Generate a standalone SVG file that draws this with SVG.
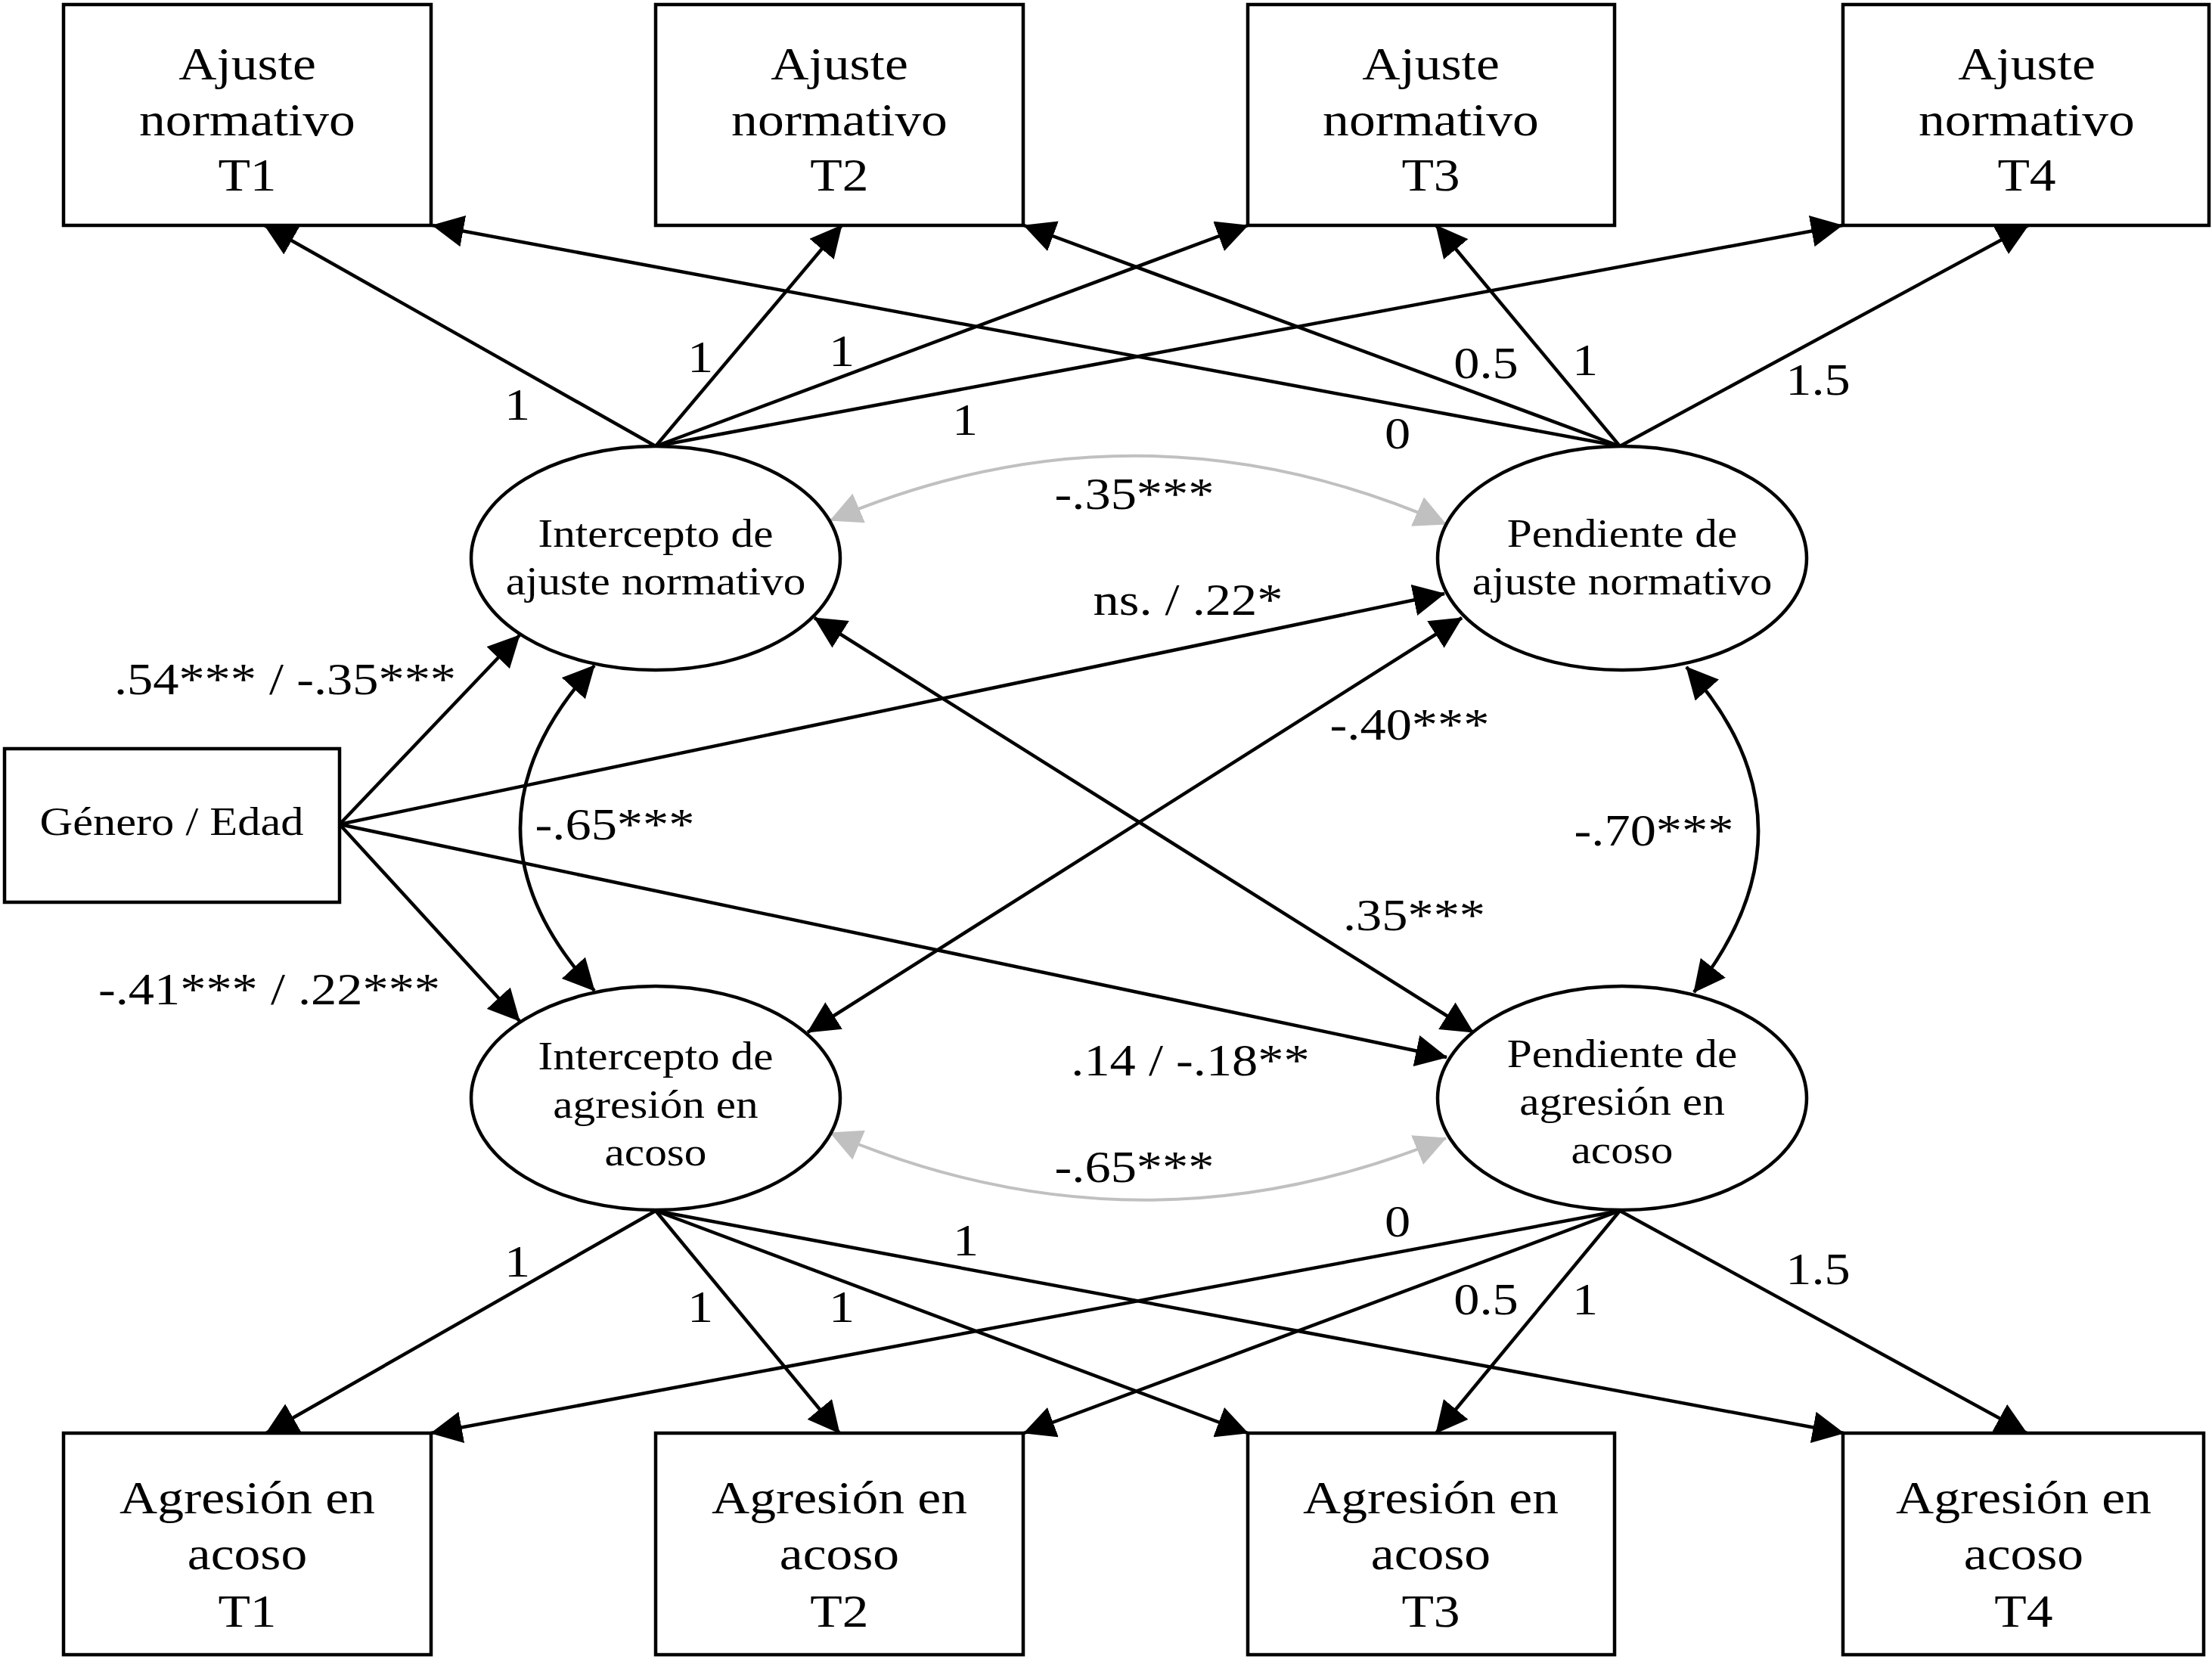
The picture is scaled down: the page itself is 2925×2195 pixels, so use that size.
<svg xmlns="http://www.w3.org/2000/svg" width="2925" height="2195" viewBox="0 0 2925 2195">
<style>
.t{font-family:"Liberation Serif","Times New Roman",serif;text-anchor:middle;fill:#000;transform-box:fill-box;transform-origin:center;transform:scaleX(1.14)}
.bx{font-size:61px}
.el{font-size:52px}
.lb{font-size:60px}
.node{fill:#fff;stroke:#000;stroke-width:4.5}
.e{fill:none;stroke:#000;stroke-width:4.5;marker-end:url(#ah)}
.b{fill:none;stroke:#000;stroke-width:4.5;marker-start:url(#ah);marker-end:url(#ah)}
.g{fill:none;stroke:#c0c0c0;stroke-width:4;marker-start:url(#ag);marker-end:url(#ag)}
</style>
<defs>
<marker id="ah" viewBox="0 0 42 42" refX="41" refY="21" markerWidth="42" markerHeight="42" markerUnits="userSpaceOnUse" orient="auto-start-reverse"><path d="M0,0 L42,21 L0,42 z" fill="#000"/></marker>
<marker id="ag" viewBox="0 0 42 42" refX="41" refY="21" markerWidth="42" markerHeight="42" markerUnits="userSpaceOnUse" orient="auto-start-reverse"><path d="M0,0 L42,21 L0,42 z" fill="#c0c0c0"/></marker>
</defs>
<rect width="2925" height="2195" fill="#fff"/>
<g id="connectors">
<path class="e" d="M867,590 L350,298"/>
<path class="e" d="M867,590 L1113,298"/>
<path class="e" d="M867,590 L1650,298"/>
<path class="e" d="M867,590 L2436,298"/>
<path class="e" d="M2142,590 L572,298"/>
<path class="e" d="M2142,590 L1354,298"/>
<path class="e" d="M2142,590 L1899,298"/>
<path class="e" d="M2142,590 L2682,298"/>
<path class="e" d="M867,1601 L352,1895"/>
<path class="e" d="M867,1601 L1110,1895"/>
<path class="e" d="M867,1601 L1650,1895"/>
<path class="e" d="M867,1601 L2438,1895"/>
<path class="e" d="M2142,1601 L570,1895"/>
<path class="e" d="M2142,1601 L1354,1895"/>
<path class="e" d="M2142,1601 L1899,1895"/>
<path class="e" d="M2142,1601 L2680,1895"/>
<path class="e" d="M449,1090 L687,840"/>
<path class="e" d="M449,1090 L687,1350"/>
<path class="e" d="M449,1090 L1910,785"/>
<path class="e" d="M449,1090 L1913,1398"/>
<path class="b" d="M1077,817 L1948,1365"/>
<path class="b" d="M1933,817 L1068,1365"/>
<path class="b" d="M786,880 Q590,1095 786,1310"/>
<path class="b" d="M2230,882 Q2415,1089 2240,1312"/>
<path class="g" d="M1098,688 Q1505,515 1912,693"/>
<path class="g" d="M1098,1498 Q1505,1672 1912,1505"/>
</g>
<g id="labels">
<text class="t lb" x="684" y="555">1</text>
<text class="t lb" x="926" y="492">1</text>
<text class="t lb" x="1113" y="484">1</text>
<text class="t lb" x="1276" y="575">1</text>
<text class="t lb" x="1848" y="593">0</text>
<text class="t lb" x="1965" y="500">0.5</text>
<text class="t lb" x="2096" y="496">1</text>
<text class="t lb" x="2404" y="522">1.5</text>
<text class="t lb" x="684" y="1688">1</text>
<text class="t lb" x="926" y="1748">1</text>
<text class="t lb" x="1113" y="1748">1</text>
<text class="t lb" x="1277" y="1660">1</text>
<text class="t lb" x="1848" y="1635">0</text>
<text class="t lb" x="1965" y="1738">0.5</text>
<text class="t lb" x="2096" y="1738">1</text>
<text class="t lb" x="2404" y="1698">1.5</text>
<text class="t lb" x="1500" y="673">-.35***</text>
<text class="t lb" x="1571" y="813">ns. / .22*</text>
<text class="t lb" x="377" y="918">.54*** / -.35***</text>
<text class="t lb" x="1864" y="978">-.40***</text>
<text class="t lb" x="813" y="1110">-.65***</text>
<text class="t lb" x="2187" y="1118">-.70***</text>
<text class="t lb" x="1870" y="1230">.35***</text>
<text class="t lb" x="356" y="1328">-.41*** / .22***</text>
<text class="t lb" x="1574" y="1422">.14 / -.18**</text>
<text class="t lb" x="1500" y="1563">-.65***</text>
</g>
<g id="ajuste-t1"><rect class="node" x="84" y="6" width="486" height="292"/>
<text class="t bx" x="327" y="105">Ajuste</text><text class="t bx" x="327" y="179">normativo</text><text class="t bx" x="327" y="252">T1</text></g>
<g id="ajuste-t2"><rect class="node" x="867" y="6" width="486" height="292"/>
<text class="t bx" x="1110" y="105">Ajuste</text><text class="t bx" x="1110" y="179">normativo</text><text class="t bx" x="1110" y="252">T2</text></g>
<g id="ajuste-t3"><rect class="node" x="1650" y="6" width="485" height="292"/>
<text class="t bx" x="1892" y="105">Ajuste</text><text class="t bx" x="1892" y="179">normativo</text><text class="t bx" x="1892" y="252">T3</text></g>
<g id="ajuste-t4"><rect class="node" x="2437" y="6" width="484" height="292"/>
<text class="t bx" x="2680" y="105">Ajuste</text><text class="t bx" x="2680" y="179">normativo</text><text class="t bx" x="2680" y="252">T4</text></g>
<g id="agresion-t1"><rect class="node" x="84" y="1895" width="486" height="293"/>
<text class="t bx" x="327" y="2001">Agresión en</text><text class="t bx" x="327" y="2075">acoso</text><text class="t bx" x="327" y="2151">T1</text></g>
<g id="agresion-t2"><rect class="node" x="867" y="1895" width="486" height="293"/>
<text class="t bx" x="1110" y="2001">Agresión en</text><text class="t bx" x="1110" y="2075">acoso</text><text class="t bx" x="1110" y="2151">T2</text></g>
<g id="agresion-t3"><rect class="node" x="1650" y="1895" width="485" height="293"/>
<text class="t bx" x="1892" y="2001">Agresión en</text><text class="t bx" x="1892" y="2075">acoso</text><text class="t bx" x="1892" y="2151">T3</text></g>
<g id="agresion-t4"><rect class="node" x="2437" y="1895" width="477" height="293"/>
<text class="t bx" x="2676" y="2001">Agresión en</text><text class="t bx" x="2676" y="2075">acoso</text><text class="t bx" x="2676" y="2151">T4</text></g>
<g id="genero-edad"><rect class="node" x="6" y="990" width="443" height="203"/>
<text class="t" style="font-size:53px" x="227" y="1104">Género / Edad</text></g>
<g id="intercepto-ajuste"><ellipse class="node" cx="867" cy="738" rx="244" ry="148"/>
<text class="t el" x="867" y="723">Intercepto de</text><text class="t el" x="867" y="786">ajuste normativo</text></g>
<g id="pendiente-ajuste"><ellipse class="node" cx="2145" cy="738" rx="244" ry="148"/>
<text class="t el" x="2145" y="723">Pendiente de</text><text class="t el" x="2145" y="786">ajuste normativo</text></g>
<g id="intercepto-agresion"><ellipse class="node" cx="867" cy="1452" rx="244" ry="148"/>
<text class="t el" x="867" y="1414">Intercepto de</text><text class="t el" x="867" y="1478">agresión en</text><text class="t el" x="867" y="1541">acoso</text></g>
<g id="pendiente-agresion"><ellipse class="node" cx="2145" cy="1452" rx="244" ry="148"/>
<text class="t el" x="2145" y="1411">Pendiente de</text><text class="t el" x="2145" y="1474">agresión en</text><text class="t el" x="2145" y="1538">acoso</text></g>
</svg>
